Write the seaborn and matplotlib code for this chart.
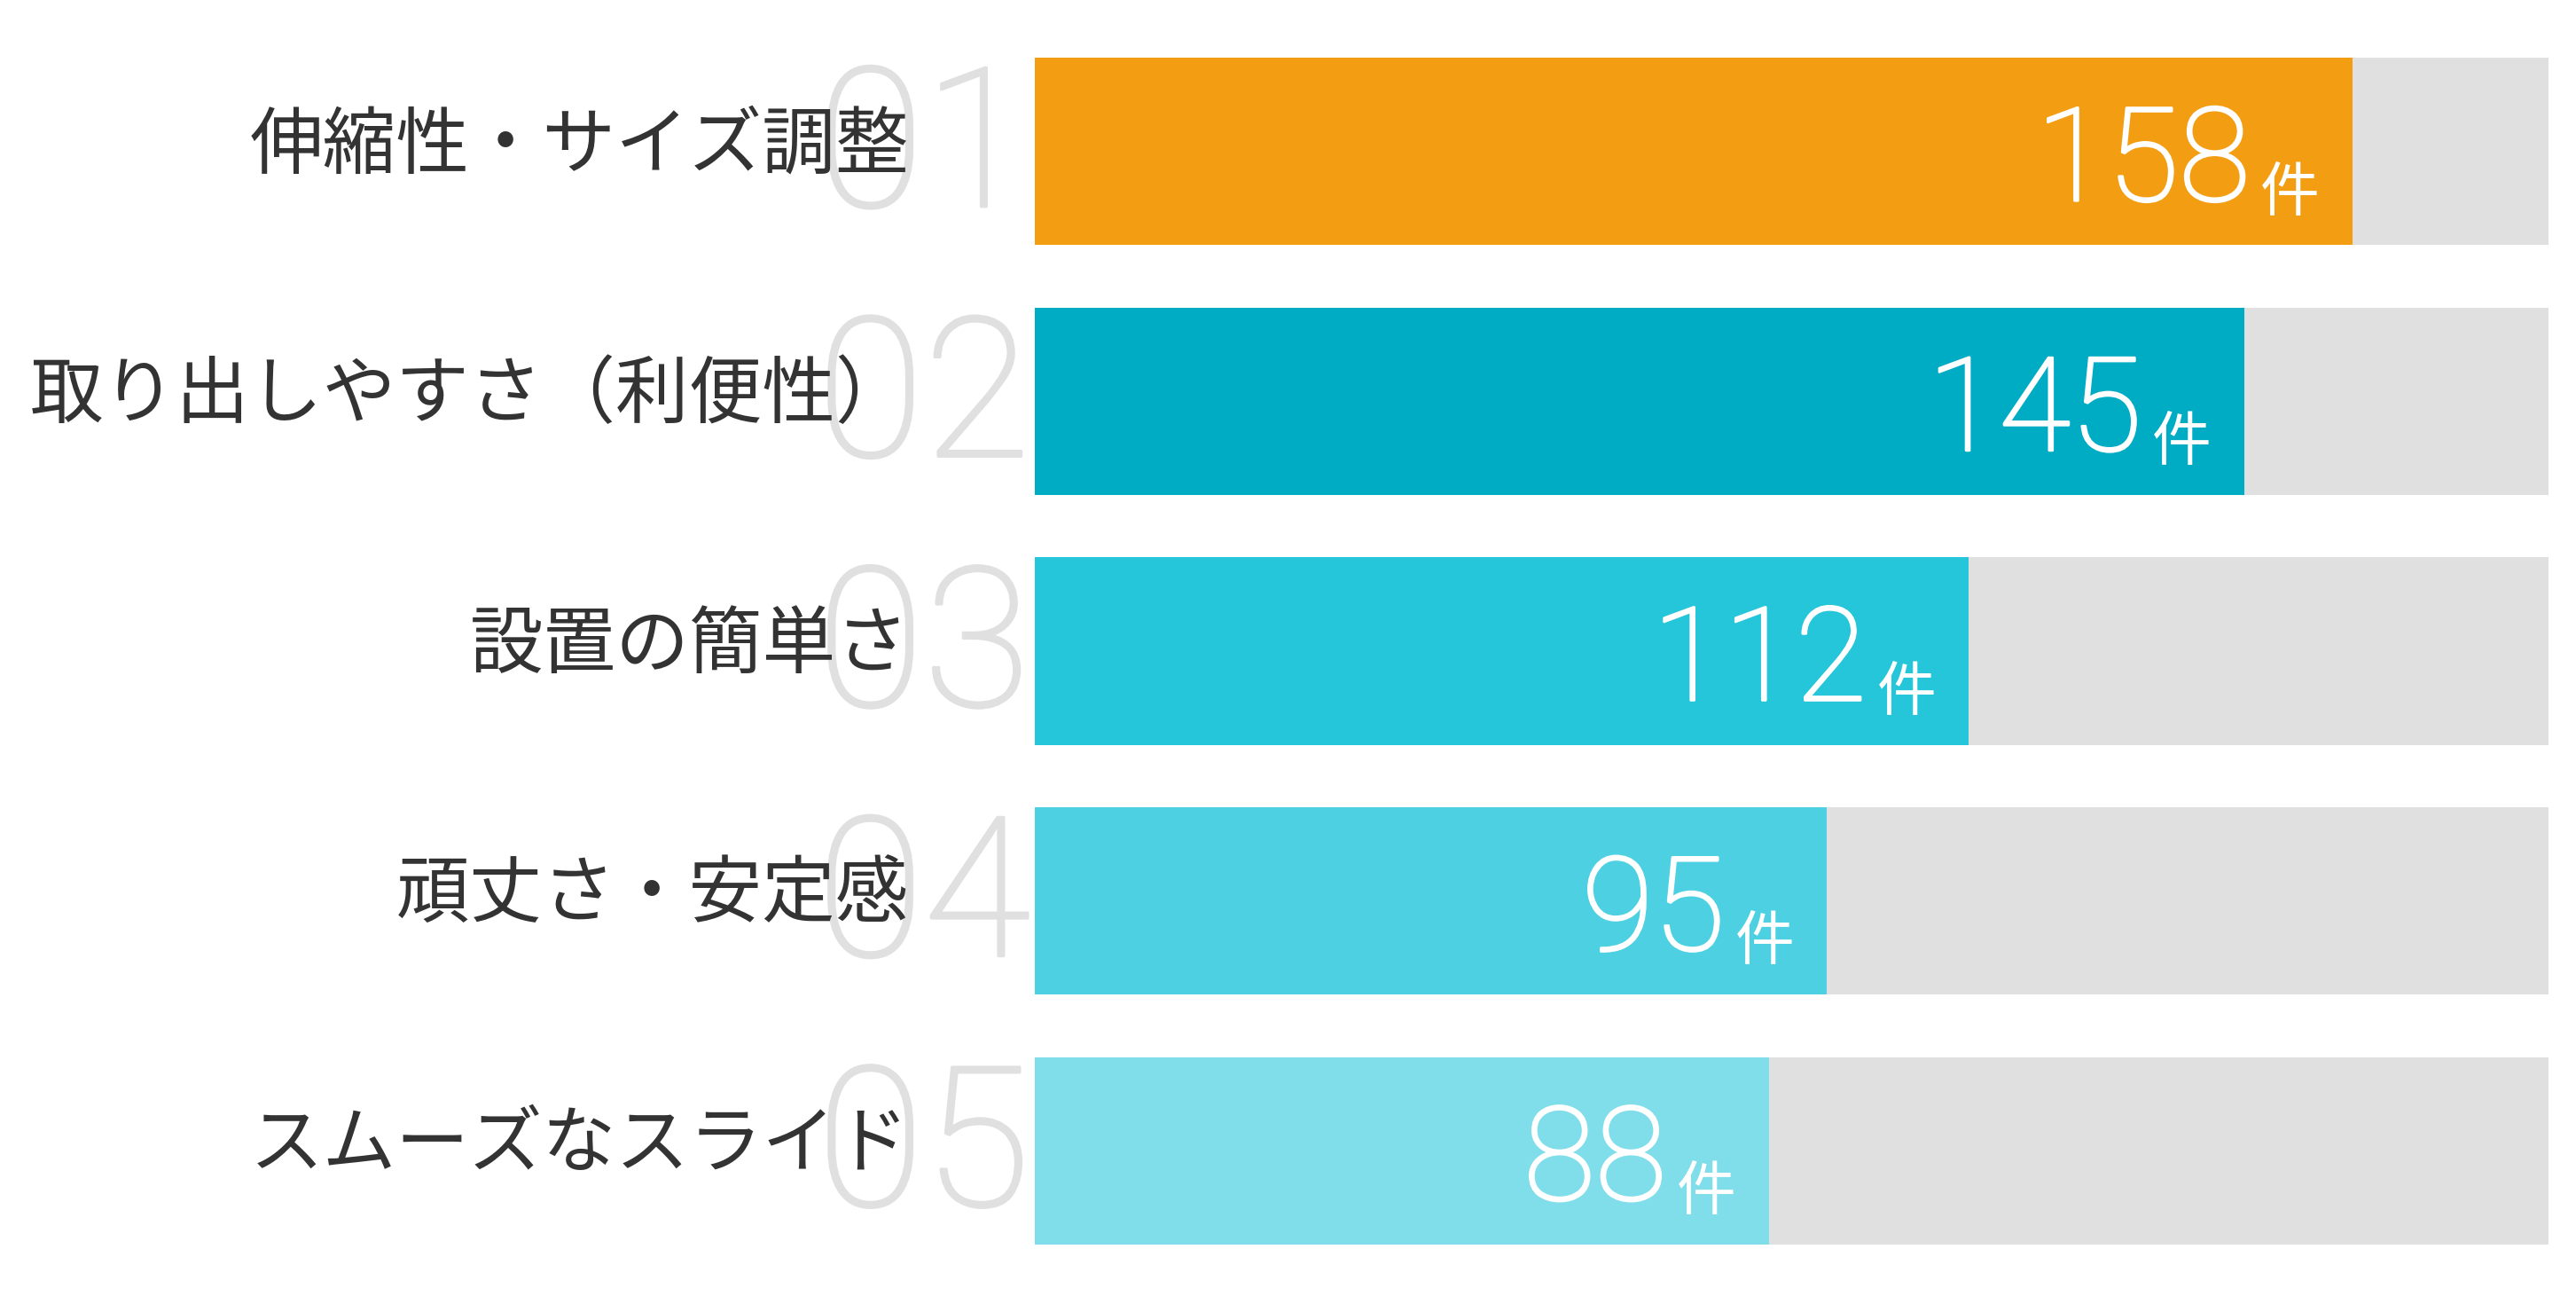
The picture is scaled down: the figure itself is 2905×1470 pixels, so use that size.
import pandas as pd
import matplotlib.pyplot as plt
import matplotlib.transforms as mtransforms
import matplotlib.patheffects as pe
import seaborn as sns

# data
labels = ['伸縮性・サイズ調整', '取り出しやすさ（利便性）', '設置の簡単さ', '頑丈さ・安定感', 'スムーズなスライド']
counts = [158, 145, 112, 95, 88]
ranks = ['01', '02', '03', '04', '05']
track_max = 181.5
colors = ['#F39E12', '#00ACC4', '#26C6DA', '#4DD0E1', '#80DEEA']

df = pd.DataFrame({'label': labels, 'count': counts, 'rank': ranks})
df['track'] = track_max

sns.set_style('white')
plt.rcParams['font.family'] = ['Noto Sans CJK JP', 'DejaVu Sans']
num_font = ['Roboto', 'DejaVu Sans']

fig = plt.figure(figsize=(29.05, 14.7), dpi=100)
ax = fig.add_axes([0.4017, 0.0218, 0.5876, 0.9578])

# gray track behind each bar
sns.barplot(data=df, x='track', y='label', color='#E0E0E0', width=0.75,
            saturation=1, linewidth=0, ax=ax, orient='h')
sns.barplot(data=df, x='count', y='label', hue='label', palette=colors,
            width=0.75, saturation=1, linewidth=0, legend=False, ax=ax, orient='h')

ax.set_xlim(0, track_max)
ax.set_ylim(4.5, -0.5)
ax.axis('off')

# thicken the light digits a little
gray_fx = [pe.withStroke(linewidth=2.4, foreground='#E0E0E0')]
white_fx = [pe.withStroke(linewidth=2.0, foreground='white')]

trans = mtransforms.blended_transform_factory(ax.transAxes, ax.transData)
for i, row in df.iterrows():
    # big faded rank number
    ax.text(-0.003, i + 0.22, row['rank'], transform=trans, ha='right', va='baseline',
            fontsize=158, color='#E0E0E0', family=num_font, fontweight='light',
            path_effects=gray_fx, zorder=1, clip_on=False)
    # category label
    ax.text(-0.083, i - 0.02, row['label'], transform=trans, ha='right', va='center',
            fontsize=59.5, color='#333333', zorder=2, clip_on=False)
    # value + unit
    ax.annotate(str(row['count']), (row['count'], i + 0.197), xytext=(-83, 0),
                textcoords='offset points', ha='right', va='baseline',
                fontsize=106, color='white', family=num_font, fontweight='light',
                path_effects=white_fx, zorder=3)
    ax.annotate('件', (row['count'], i + 0.237), xytext=(-26.6, 0),
                textcoords='offset points', ha='right', va='baseline',
                fontsize=48, color='white', zorder=3)

fig.savefig('out.png', dpi=100, facecolor='white')
